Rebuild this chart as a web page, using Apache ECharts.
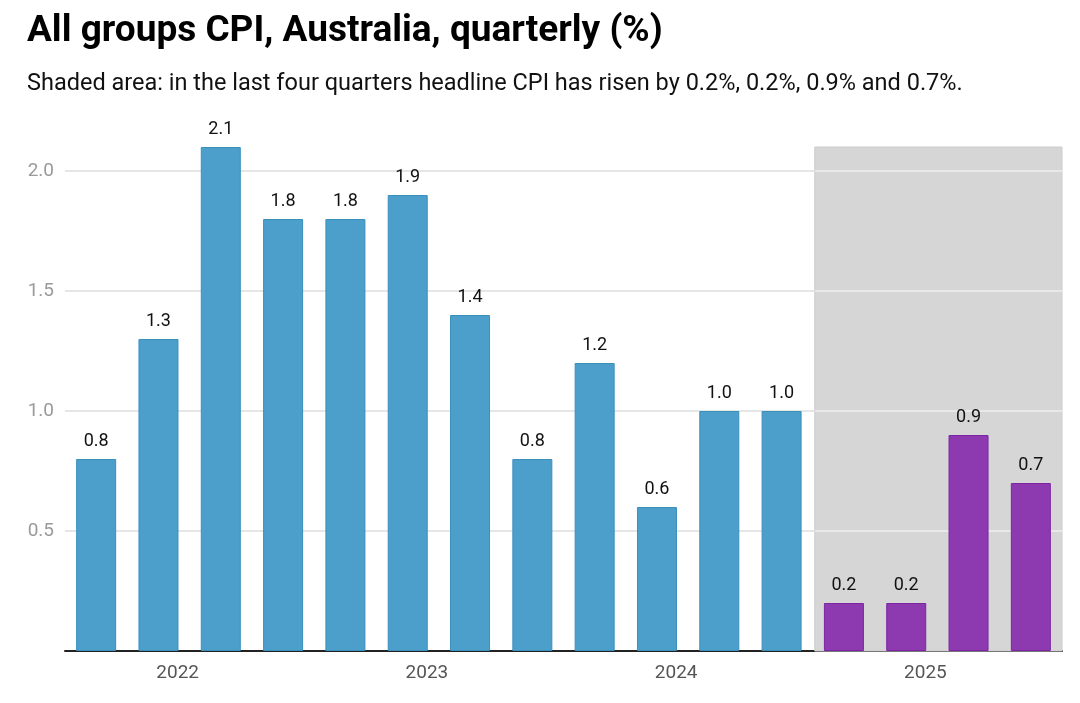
<!DOCTYPE html>
<html>
<head>
<meta charset="utf-8">
<script src="https://cdn.jsdelivr.net/npm/echarts@6/dist/echarts.min.js"></script>
<style>
  html, body { margin: 0; padding: 0; background: #fff; }
  #chart { width: 1080px; height: 703px; }
</style>
</head>
<body>
<div id="chart"></div>
<script>
  // quarterly CPI change, 2022 Q1 .. 2025 Q4
  const quarters = [
    '2022 Q1', '2022 Q2', '2022 Q3', '2022 Q4',
    '2023 Q1', '2023 Q2', '2023 Q3', '2023 Q4',
    '2024 Q1', '2024 Q2', '2024 Q3', '2024 Q4',
    '2025 Q1', '2025 Q2', '2025 Q3', '2025 Q4'
  ];
  const cpi = [0.8, 1.3, 2.1, 1.8, 1.8, 1.9, 1.4, 0.8, 1.2, 0.6, 1.0, 1.0, 0.2, 0.2, 0.9, 0.7];
  const years = ['2022', '2023', '2024', '2025'];
  const yTicks = [0.5, 1.0, 1.5, 2.0];
  const shadedCount = 4;

  const shadeStart = quarters.length - shadedCount;
  const shadeEnd = quarters.length - 1;
  const shadeTop = Math.max.apply(null, cpi);

  const blue = '#4c9fca';
  const purple = '#8d3ab0';

  const barData = cpi.map(function (v, i) {
    const last = i >= shadeStart;
    return {
      value: v,
      itemStyle: {
        color: last ? purple : blue,
        borderColor: last ? '#7d24a5' : '#3a8fbd',
        borderWidth: 1
      }
    };
  });

  const chart = echarts.init(document.getElementById('chart'));

  const option = {
    backgroundColor: '#fff',
    animation: false,
    title: [
      {
        text: 'All groups CPI, Australia, quarterly (%)',
        left: 22,
        top: 8,
        textStyle: { fontFamily: 'Roboto', fontWeight: 'bold', fontSize: 37, color: '#000' }
      },
      {
        text: 'Shaded area: in the last four quarters headline CPI has risen by 0.2%, 0.2%, 0.9% and 0.7%.',
        left: 22,
        top: 67,
        textStyle: { fontFamily: 'Roboto', fontWeight: 'normal', fontSize: 23.5, color: '#111' }
      }
    ],
    grid: { left: 65, right: 18, top: 147, bottom: 52 },
    xAxis: [
      {
        type: 'category',
        data: quarters,
        boundaryGap: true,
        axisLine: { show: true, lineStyle: { color: '#222', width: 2 } },
        axisTick: { show: false },
        axisLabel: { show: false },
        splitLine: { show: false }
      },
      {
        type: 'category',
        data: years,
        position: 'bottom',
        boundaryGap: true,
        axisLine: { show: false },
        axisTick: { show: false },
        axisLabel: {
          margin: 13,
          fontFamily: 'Roboto',
          fontSize: 19,
          color: '#555',
          padding: [0, 24, 0, 0]
        },
        splitLine: { show: false }
      }
    ],
    yAxis: {
      type: 'value',
      min: 0,
      max: shadeTop,
      interval: 0.5,
      axisLine: { show: false },
      axisTick: { show: false },
      axisLabel: {
        showMinLabel: false,
        showMaxLabel: false,
        margin: 11,
        fontFamily: 'Roboto',
        fontSize: 19,
        color: '#9a9a9a',
        formatter: function (v) { return v.toFixed(1); }
      },
      splitLine: {
        showMinLine: false,
        showMaxLine: false,
        lineStyle: { color: '#e6e6e6', width: 2 }
      }
    },
    series: [
      {
        type: 'custom',
        z: 1,
        xAxisIndex: 0,
        silent: true,
        data: [[shadeStart, shadeEnd, shadeTop]],
        renderItem: function (params, api) {
          const band = api.size([1, 0])[0];
          const pTop = api.coord([api.value(0), api.value(2)]);
          const pEnd = api.coord([api.value(1), 0]);
          const x0 = pTop[0] - band / 2 + 2;
          const x1 = pEnd[0] + band / 2;
          const children = [{
            type: 'rect',
            shape: { x: x0, y: pTop[1], width: x1 - x0, height: pEnd[1] - pTop[1] },
            style: { fill: '#d6d6d6', stroke: '#cccccc', lineWidth: 1 }
          }];
          yTicks.forEach(function (t) {
            const y = api.coord([api.value(0), t])[1];
            children.push({
              type: 'line',
              shape: { x1: x0, y1: y, x2: x1, y2: y },
              style: { stroke: '#e8e8e8', lineWidth: 2 }
            });
          });
          return { type: 'group', children: children };
        }
      },
      {
        type: 'bar',
        z: 2,
        xAxisIndex: 0,
        data: barData,
        barWidth: 40,
        label: {
          show: true,
          position: 'top',
          distance: 9,
          fontFamily: 'Roboto',
          fontSize: 18,
          color: '#111',
          formatter: function (p) { return p.value.toFixed(1); }
        }
      }
    ]
  };

  chart.setOption(option);
  window.addEventListener('resize', function () {
    chart.resize();
  });
</script>
</body>
</html>
